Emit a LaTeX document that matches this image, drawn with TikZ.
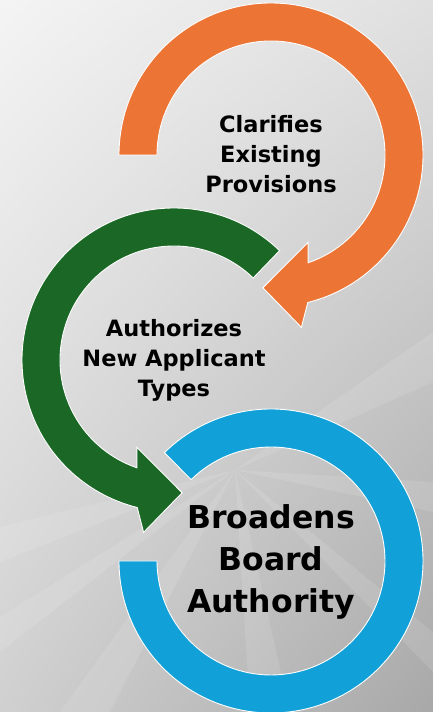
\documentclass[tikz,border=0pt]{standalone}
\usepackage{fontspec}
\usetikzlibrary{shadings}
\setsansfont{DejaVu Sans}
\definecolor{bgA}{RGB}{244,244,244}
\definecolor{bgB}{RGB}{224,224,224}
\definecolor{bgC}{RGB}{208,208,208}
\definecolor{bgD}{RGB}{168,168,168}
\definecolor{orng}{RGB}{236,116,52}
\definecolor{grn}{RGB}{27,104,38}
\definecolor{blu}{RGB}{17,160,216}
\begin{document}
\begin{tikzpicture}[x=1pt,y=1pt,
  ring/.style={draw=white,line width=0.9pt,line join=miter},
  ray/.style={white,opacity=0.11},
  lbl/.style={font=\sffamily\bfseries\fontsize{22.5}{30}\selectfont,align=center,text=black,inner sep=0pt},
  biglbl/.style={font=\sffamily\bfseries\fontsize{31.5}{42}\selectfont,align=center,text=black,inner sep=0pt}]
\useasboundingbox (0,0) rectangle (433,712);
\shade[shading=bilinear interpolation, upper left=bgA, upper right=bgB, lower left=bgC, lower right=bgD] (0,0) rectangle (433,712);
% light rays
\coordinate (F) at (235,242);
\fill[ray] (F) -- (0,150) -- (0,185) -- cycle;
\fill[ray] (F) -- (0,60) -- (0,95) -- cycle;
\fill[ray] (F) -- (60,0) -- (110,0) -- cycle;
\fill[ray] (F) -- (250,0) -- (290,0) -- cycle;
\fill[ray] (F) -- (433,330) -- (433,380) -- cycle;
\fill[ray] (F) -- (433,200) -- (433,230) -- cycle;
\fill[ray] (F) -- (433,40) -- (433,80) -- cycle;
% centres
\coordinate (O) at (271,557);
\coordinate (G) at (174,352);
\coordinate (B) at (271,151);
% orange arrow
\begin{scope}[shift={(O)}]
\filldraw[ring,fill=orng] (180:152) arc[start angle=180,end angle=-76,radius=152]
  -- (-80:175) -- (-93.5:133) -- (-67:95) -- (-71:114)
  arc[start angle=-71,end angle=180,radius=114] -- cycle;
\end{scope}
% green arrow
\begin{scope}[shift={(G)}]
\filldraw[ring,fill=grn] (46:152) arc[start angle=46,end angle=256,radius=152]
  -- (260:175) -- (273.5:133) -- (247:95) -- (251:114)
  arc[start angle=251,end angle=46,radius=114] -- cycle;
\end{scope}
% blue ring
\begin{scope}[shift={(B)}]
\filldraw[ring,fill=blu] (180:152) arc[start angle=180,end angle=494.5,radius=152]
  -- (494.5:114) arc[start angle=494.5,end angle=180,radius=114] -- cycle;
\end{scope}
% labels
\node[lbl] (clar) at ([yshift=1]O) {Clarifies\\Existing\\Provisions};
\node[lbl] (auth) at (G) {Authorizes\\New Applicant\\Types};
\node[biglbl] (broad) at ([yshift=-1]B) {Broadens\\Board\\Authority};
\end{tikzpicture}
\end{document}
